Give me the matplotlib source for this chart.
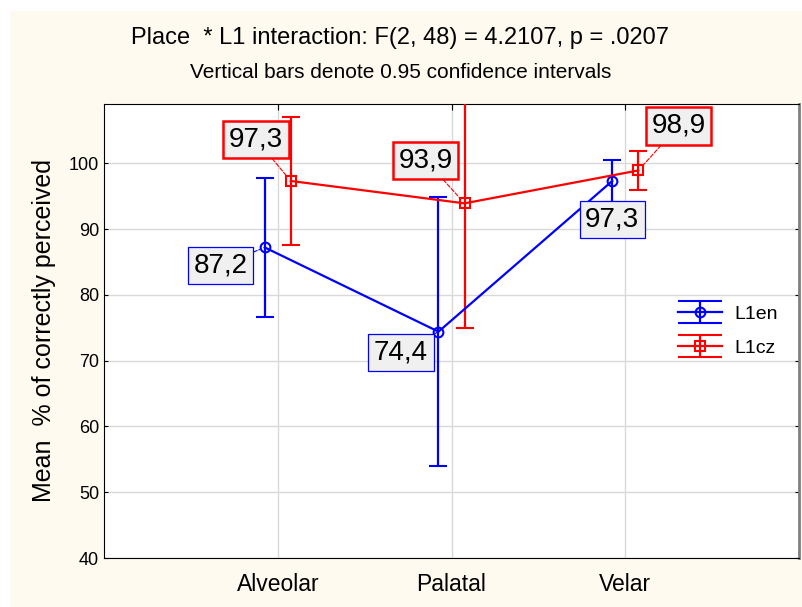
import numpy as np
import matplotlib
matplotlib.use('Agg')
import matplotlib.pyplot as plt
from matplotlib.patches import Rectangle
from matplotlib.legend_handler import HandlerErrorbar
from matplotlib.container import ErrorbarContainer

plt.rcParams['font.family'] = ['Liberation Sans', 'DejaVu Sans']

places = ['Alveolar', 'Palatal', 'Velar']
en_mean = [87.2, 74.4, 97.3]
en_low = [76.7, 54.0, 94.1]
en_high = [97.7, 94.8, 100.5]
cz_mean = [97.3, 93.9, 98.9]
cz_low = [87.5, 75.0, 95.9]
cz_high = [107.0, 112.8, 101.8]
en_labels = ['87,2', '74,4', '97,3']
cz_labels = ['97,3', '93,9', '98,9']

# label offsets in points (layout only)
en_offsets = [(-32, -13), (-27, -15), (0, -28)]
cz_offsets = [(-25, 30), (-28, 31), (29, 32)]

BLUE = '#0000ff'
RED = '#ff0000'
cream = '#fefaf0'

fig = plt.figure(figsize=(8.02, 6.07), dpi=100, facecolor=cream)
# white strips along top and left edge
fig.patches.append(Rectangle((0, 1 - 10 / 607), 1, 10 / 607, transform=fig.transFigure,
                             color='white', zorder=0))
fig.patches.append(Rectangle((0, 0), 9 / 802, 1, transform=fig.transFigure,
                             color='white', zorder=0))
ax = fig.add_axes([0.1297, 0.0807, 0.8666, 0.748])

x = np.arange(1, len(places) + 1)
dx = 0.075
en_err = [np.array(en_mean) - np.array(en_low), np.array(en_high) - np.array(en_mean)]
cz_err = [np.array(cz_mean) - np.array(cz_low), np.array(cz_high) - np.array(cz_mean)]

ax.errorbar(x - dx, en_mean, yerr=en_err, color=BLUE, lw=1.6, marker='o', ms=7,
            mfc='none', mew=1.5, capsize=6.5, capthick=1.6, zorder=3)
ax.errorbar(x + dx, cz_mean, yerr=cz_err, color=RED, lw=1.6, marker='s', ms=6.5,
            mfc='none', mew=1.5, capsize=6.5, capthick=1.6, zorder=3)

for xi, yi, lab, off in zip(x - dx, en_mean, en_labels, en_offsets):
    ax.annotate(lab, (xi, yi), xytext=off, textcoords='offset points',
                ha='center', va='center', fontsize=20, zorder=5,
                bbox=dict(boxstyle='square,pad=0.2', fc='#f0f0f0', ec=BLUE, lw=0.9),
                arrowprops=dict(arrowstyle='-', color=BLUE, lw=0.8, ls='--',
                                shrinkA=0, shrinkB=4))
for xi, yi, lab, off in zip(x + dx, cz_mean, cz_labels, cz_offsets):
    ax.annotate(lab, (xi, yi), xytext=off, textcoords='offset points',
                ha='center', va='center', fontsize=20, zorder=5,
                bbox=dict(boxstyle='square,pad=0.2', fc='#f0f0f0', ec=RED, lw=1.8),
                arrowprops=dict(arrowstyle='-', color=RED, lw=0.8, ls='--',
                                shrinkA=0, shrinkB=4))

ax.set_xlim(0, 4)
ax.set_ylim(40, 109)
ax.set_xticks(x)
ax.set_xticklabels(places, fontsize=16.5)
ax.set_yticks(np.arange(40, 101, 10))
ax.tick_params(axis='y', labelsize=13, direction='in', length=3, right=True)
ax.tick_params(axis='x', direction='in', length=4, top=True, bottom=False, pad=11)
ax.grid(True, color='#d9d9d9', lw=1)
ax.set_axisbelow(True)
ax.spines['right'].set_color('#808080')
ax.spines['right'].set_linewidth(2)
ax.set_ylabel('Mean  % of correctly perceived', fontsize=18, labelpad=9)

# legend proxies
h_en = ax.errorbar([np.nan], [np.nan], yerr=[1], color=BLUE, lw=1.6, marker='o', ms=7,
                   mfc='none', mew=1.5, capsize=16, capthick=1.6, label='L1en')
h_cz = ax.errorbar([np.nan], [np.nan], yerr=[1], color=RED, lw=1.6, marker='s', ms=6.5,
                   mfc='none', mew=1.5, capsize=16, capthick=1.6, label='L1cz')
ax.legend(handles=[h_en, h_cz], loc='center left', bbox_to_anchor=(0.80, 0.50),
          frameon=False, fontsize=14, handlelength=2.3, handletextpad=0.6,
          labelspacing=0.85,
          handler_map={ErrorbarContainer: HandlerErrorbar(yerr_size=0.58)})

fig.text(0.499, 0.937, 'Place  * L1 interaction: F(2, 48) = 4.2107, p = .0207',
         ha='center', va='center', fontsize=17)
fig.text(0.499, 0.880, 'Vertical bars denote 0.95 confidence intervals',
         ha='center', va='center', fontsize=15)

fig.savefig('out.png', dpi=100, facecolor=cream)
